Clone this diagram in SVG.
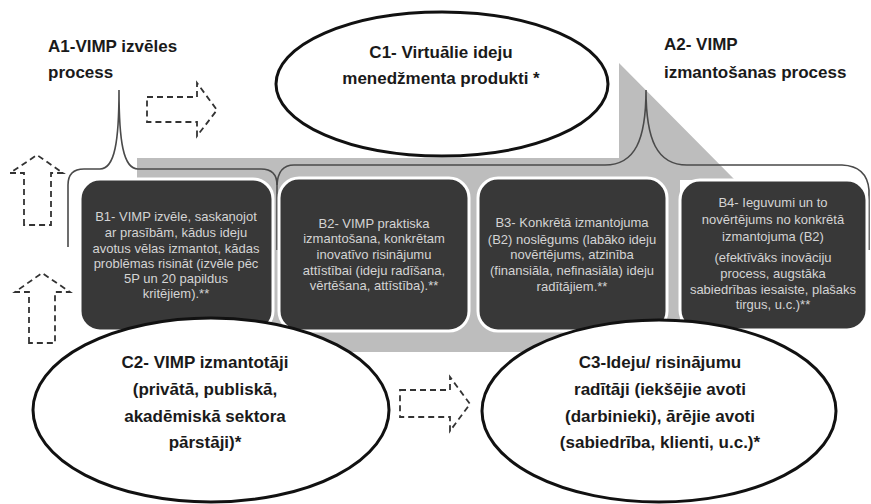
<svg xmlns="http://www.w3.org/2000/svg" width="871" height="504" viewBox="0 0 871 504">
<style>
.lbl{font-family:"Liberation Sans",Arial,sans-serif;font-weight:bold;font-size:17px;fill:#1a1a1a}
.box{fill:#383838;stroke:#ffffff;stroke-width:3}
.bt{font-family:"Liberation Sans",Arial,sans-serif;font-size:13px;fill:#d4d4d4;text-anchor:middle}
.ell{fill:#ffffff;stroke:#111111;stroke-width:3}
.et{font-family:"Liberation Sans",Arial,sans-serif;font-weight:bold;font-size:17px;fill:#1a1a1a;text-anchor:middle}
.brace{fill:none;stroke:#4a4a4a;stroke-width:1.6}
.darr{fill:none;stroke:#333333;stroke-width:1.8;stroke-dasharray:6 4}
</style>
<rect width="871" height="504" fill="#ffffff"/>
<path id="band" d="M137,158 H619 V63 L735,180 H680 V352 H137 Z" fill="#bdbdbd"/>
<g id="connectors">
<path class="brace" d="M68,247 V185 Q68,169 84,169 H100 C115,169 119,140 119,90 C119,140 123,169 138,169 H261 Q277,169 277,185 V250"/>
<path class="brace" d="M277,185 Q278,165 294,165 H605 C635,165 646,140 646,90 C646,140 657,165 687,165 H842 Q867,166 869,190 V250"/>
<path class="darr" d="M147,97 H197 V83 L217,110 L197,136 V122 H147 Z"/>
<path class="darr" d="M400,390 H450 V377 L470,404 L450,431 V417 H400 Z"/>
<path class="darr" d="M24,225 V173 H10 L37,155 L63,173 H51 V225 Z"/>
<path class="darr" d="M29,343 V292 H15 L42,273 L70,292 H55 V343 Z"/>
</g>
<g id="A1">
<text class="lbl" x="48" y="52">A1-VIMP izvēles</text>
<text class="lbl" x="48" y="78">process</text>
</g>
<g id="A2">
<text class="lbl" x="664" y="50">A2- VIMP</text>
<text class="lbl" x="664" y="78">izmantošanas process</text>
</g>
<g id="B1">
<rect class="box" x="80" y="179" width="193" height="152" rx="20"/>
<text class="bt" x="176" y="221">B1- VIMP izvēle, saskaņojot</text>
<text class="bt" x="176" y="237">ar prasībām, kādus  ideju</text>
<text class="bt" x="176" y="253">avotus vēlas izmantot, kādas</text>
<text class="bt" x="176" y="268">problēmas risināt (izvēle pēc</text>
<text class="bt" x="176" y="283">5P un 20 papildus</text>
<text class="bt" x="176" y="298">kritējiem).**</text>
</g>
<g id="B2">
<rect class="box" x="279" y="178" width="190" height="153" rx="20"/>
<text class="bt" x="374" y="228">B2- VIMP praktiska</text>
<text class="bt" x="374" y="243">izmantošana, konkrētam</text>
<text class="bt" x="374" y="259">inovatīvo risinājumu</text>
<text class="bt" x="374" y="275">attīstībai (ideju radīšana,</text>
<text class="bt" x="374" y="290">vērtēšana, attīstība).**</text>
</g>
<g id="B3">
<rect class="box" x="478" y="178" width="189" height="153" rx="20"/>
<text class="bt" x="572" y="227">B3- Konkrētā  izmantojuma</text>
<text class="bt" x="572" y="244">(B2) noslēgums (labāko ideju</text>
<text class="bt" x="572" y="259">novērtējums, atzinība</text>
<text class="bt" x="572" y="275">(finansiāla, nefinasiāla) ideju</text>
<text class="bt" x="572" y="291">radītājiem.**</text>
</g>
<g id="B4">
<rect class="box" x="680" y="180" width="187" height="150" rx="20"/>
<text class="bt" x="773" y="207">B4- Ieguvumi un to</text>
<text class="bt" x="773" y="224">novērtējums no konkrētā</text>
<text class="bt" x="773" y="241">izmantojuma (B2)</text>
<text class="bt" x="773" y="262">(efektīvāks inovāciju</text>
<text class="bt" x="773" y="278">process, augstāka</text>
<text class="bt" x="773" y="294">sabiedrības iesaiste, plašaks</text>
<text class="bt" x="773" y="309">tirgus, u.c.)**</text>
</g>
<g id="C1">
<ellipse class="ell" cx="442" cy="84" rx="166" ry="72"/>
<text class="et" x="441" y="58">C1- Virtuālie ideju</text>
<text class="et" x="441" y="84">menedžmenta produkti *</text>
</g>
<g id="C2">
<ellipse class="ell" cx="211" cy="410" rx="178" ry="92"/>
<text class="et" x="205" y="368">C2- VIMP izmantotāji</text>
<text class="et" x="205" y="395">(privātā, publiskā,</text>
<text class="et" x="205" y="422">akadēmiskā sektora</text>
<text class="et" x="205" y="448">pārstāji)*</text>
</g>
<g id="C3">
<ellipse class="ell" cx="659" cy="411" rx="177" ry="91"/>
<text class="et" x="660" y="368">C3-Ideju/ risinājumu</text>
<text class="et" x="660" y="395">radītāji (iekšējie avoti</text>
<text class="et" x="660" y="422">(darbinieki), ārējie avoti</text>
<text class="et" x="660" y="448">(sabiedrība, klienti, u.c.)*</text>
</g>
</svg>
